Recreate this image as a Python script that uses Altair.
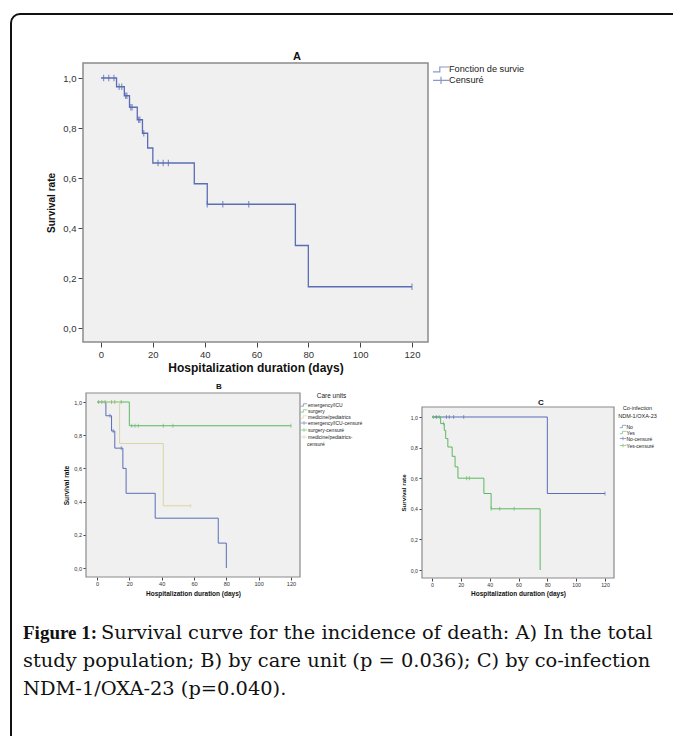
import altair as alt
import pandas as pd

# ---------------- data ----------------
x_ticks = [0, 20, 40, 60, 80, 100, 120]
y_ticks = [0.0, 0.2, 0.4, 0.6, 0.8, 1.0]

# Panel A: total study population
a_legend = ["Fonction de survie", "Censuré"]
a_days = [0, 6, 9, 11, 14, 16, 18, 20, 36, 41, 75, 80, 120]
a_surv = [1.0, 0.965, 0.929, 0.883, 0.833, 0.779, 0.72, 0.66, 0.577, 0.495, 0.33, 0.165, 0.165]
a_cens_days = [1, 3, 5, 7, 8, 9.5, 10, 11.5, 12, 14.5, 15, 16.5, 22, 24, 26, 41, 47, 57, 120]
a_cens_surv = [1.0, 1.0, 1.0, 0.965, 0.965, 0.929, 0.929, 0.883, 0.883, 0.833, 0.833, 0.779,
               0.66, 0.66, 0.66, 0.495, 0.495, 0.495, 0.165]

# Panel B: by care unit
b_groups = ["emergency/ICU", "surgery", "medicine/pediatrics"]
b_emerg_days = [0, 5.5, 9, 11, 16, 18, 36, 75, 80]
b_emerg_surv = [1.0, 0.917, 0.825, 0.722, 0.60, 0.45, 0.30, 0.15, 0.0]
b_surg_days = [0, 20, 120]
b_surg_surv = [1.0, 0.857, 0.857]
b_med_days = [0, 14, 41, 58]
b_med_surv = [1.0, 0.75, 0.375, 0.375]
b_emerg_cens_days = [8, 10, 15]
b_emerg_cens_surv = [0.917, 0.825, 0.722]
b_surg_cens_days = [1, 3, 5, 9, 11, 15, 21.5, 23.5, 25.5, 41, 47, 120]
b_surg_cens_surv = [1.0, 1.0, 1.0, 1.0, 1.0, 1.0, 0.857, 0.857, 0.857, 0.857, 0.857, 0.857]
b_med_cens_days = [58]
b_med_cens_surv = [0.375]

# Panel C: by co-infection NDM-1/OXA-23
c_groups = ["No", "Yes"]
c_no_days = [0, 80, 120]
c_no_surv = [1.0, 0.5, 0.5]
c_yes_days = [0, 6, 8.5, 9.5, 11, 14, 16, 18, 36, 41, 75]
c_yes_surv = [1.0, 0.957, 0.913, 0.859, 0.804, 0.743, 0.674, 0.60, 0.50, 0.40, 0.0]
c_no_cens_days = [3, 10, 12, 15, 22, 120]
c_no_cens_surv = [1.0, 1.0, 1.0, 1.0, 1.0, 0.5]
c_yes_cens_days = [1, 5, 8, 24, 26, 41, 47, 57]
c_yes_cens_surv = [1.0, 1.0, 0.957, 0.60, 0.60, 0.40, 0.40, 0.40]

caption_bold = "Figure 1:"
caption_lines = [
    "Survival curve for the incidence of death: A) In the total",
    "study population; B) by care unit (p = 0.036); C) by co-infection",
    "NDM-1/OXA-23 (p=0.040).",
]

# ---------------- styling ----------------
BLUE = "#5a6db5"
GREEN = "#5cb860"
TAN = "#dcd4a2"
SANS = "Liberation Sans"
SERIF = "DejaVu Serif"
W, H = 665, 728
STEP = "M-2,0.6L-0.3,0.6L-0.3,-0.6L2,-0.6"
CENS = "M-2,0L2,0M0,-0.9L0,0.9"
STEP_S = "M-1.6,0.6L-0.3,0.6L-0.3,-0.6L1.6,-0.6"
CENS_S = "M-1.6,0L1.6,0M0,-0.9L0,0.9"
TICK = "M0,-1L0,1"


def px(v):
    return v - 8


def df(days, surv, name):
    return pd.DataFrame({"day": days, "surv": surv, "series": name})


def make_panel(cfg, lines, cens, leg_domain, leg_colors, leg_shapes, leg_kw):
    fx0, fx1, fy0, fy1 = cfg["frame"]
    tx0, tx120 = cfg["xt"]
    ty1, ty0 = cfg["yt"]
    ppd = (tx120 - tx0) / 120.0
    ppu = float(ty0 - ty1)
    xdom = [(fx0 - tx0) / ppd, (fx1 - tx0) / ppd]
    ydom = [(ty0 - fy1) / ppu, (ty0 - fy0) / ppu]

    def xs():
        return alt.Scale(domain=xdom, range=[px(fx0), px(fx1)], nice=False, zero=False)

    def ys():
        return alt.Scale(domain=ydom, range=[px(fy1), px(fy0)], nice=False, zero=False)

    def sscale():
        return alt.Scale(domain=leg_domain, range=leg_colors)

    xaxis = alt.Axis(orient="bottom", offset=px(fy1) - H, values=x_ticks, format="d",
                     title="Hospitalization duration (days)", grid=False, domain=False,
                     tickSize=cfg["tick"], tickColor="#444", labelFont=SANS,
                     labelFontSize=cfg["lab"], labelColor="#333", labelPadding=cfg["lpad"],
                     titleFont=SANS, titleFontSize=cfg["xtitle"], titleFontWeight="bold",
                     titleColor="#111", titlePadding=cfg["xtpad"])
    yaxis = alt.Axis(orient="left", offset=-px(fx0), values=y_ticks,
                     labelExpr="replace(format(datum.value, '.1f'), '.', ',')",
                     title="Survival rate", grid=False, domain=False,
                     tickSize=cfg["tick"], tickColor="#444", labelFont=SANS,
                     labelFontSize=cfg["lab"], labelColor="#333", labelPadding=cfg["lpad"],
                     titleFont=SANS, titleFontSize=cfg["ytitle"], titleFontWeight="bold",
                     titleColor="#111", titlePadding=cfg["ytpad"], minExtent=0)

    frame = alt.Chart(pd.DataFrame({"x0": [xdom[0]], "x1": [xdom[1]],
                                    "y0": [ydom[0]], "y1": [ydom[1]]})).mark_rect(
        fill="#f0f0f0", stroke="#8a8a8a", strokeWidth=cfg["fw"]).encode(
        x=alt.X("x0:Q", scale=xs(), axis=xaxis), x2="x1:Q",
        y=alt.Y("y0:Q", scale=ys(), axis=yaxis), y2="y1:Q")

    line = alt.Chart(pd.concat(lines, ignore_index=True)).mark_line(
        interpolate="step-after", strokeWidth=cfg["lw"]).encode(
        x=alt.X("day:Q", scale=xs(), axis=None),
        y=alt.Y("surv:Q", scale=ys(), axis=None),
        stroke=alt.Stroke("series:N", scale=sscale(), legend=None))

    marks = alt.Chart(pd.concat(cens, ignore_index=True)).mark_point(
        shape=TICK, filled=False, strokeWidth=cfg["cw"], size=cfg["csize"]).encode(
        x=alt.X("day:Q", scale=xs(), axis=None),
        y=alt.Y("surv:Q", scale=ys(), axis=None),
        stroke=alt.Stroke("series:N", scale=sscale(), legend=None))

    def legend():
        return alt.Legend(orient="none", padding=0, symbolFillColor="transparent",
                          labelFont=SANS, labelColor="#222", titleFont=SANS,
                          titleColor="#222", titleFontWeight="normal", **leg_kw)

    # legend carrier: its own points are placed outside the canvas
    leg = alt.Chart(pd.DataFrame({"series": leg_domain})).mark_point(filled=False).encode(
        x=alt.value(-200), y=alt.value(-200),
        color=alt.Color("series:N", scale=alt.Scale(domain=leg_domain, range=leg_colors),
                        legend=legend()),
        shape=alt.Shape("series:N", scale=alt.Scale(domain=leg_domain, range=leg_shapes),
                        legend=legend()))
    return [frame, line, marks, leg]


# ---------------- panel A ----------------
cfgA = dict(frame=(83, 428, 63, 342), xt=(101, 412), yt=(78, 328), tick=5, lab=9.5,
            lpad=2, xtitle=12, ytitle=10, xtpad=4, ytpad=6, fw=1.5, lw=1.3, cw=1.2, csize=42)
panelA = make_panel(
    cfgA,
    [df(a_days, a_surv, a_legend[0])],
    [df(a_cens_days, a_cens_surv, a_legend[1])],
    a_legend, [BLUE, BLUE], [STEP, CENS],
    dict(legendX=px(436), legendY=px(64.4), title=None, labelFontSize=9.2, symbolSize=64,
         symbolStrokeWidth=1.2, labelOffset=3, rowPadding=-4))

# ---------------- panel B ----------------
b_cens_names = [g + "-censuré" for g in b_groups]
b_domain = b_groups + b_cens_names
cfgB = dict(frame=(86, 300, 393, 577), xt=(97, 291), yt=(402, 568), tick=3, lab=5.6,
            lpad=1.5, xtitle=6.5, ytitle=6.6, xtpad=3, ytpad=4, fw=1.2, lw=1.0, cw=0.9, csize=16)
panelB = make_panel(
    cfgB,
    [df(b_emerg_days, b_emerg_surv, b_groups[0]), df(b_surg_days, b_surg_surv, b_groups[1]),
     df(b_med_days, b_med_surv, b_groups[2])],
    [df(b_emerg_cens_days, b_emerg_cens_surv, b_cens_names[0]),
     df(b_surg_cens_days, b_surg_cens_surv, b_cens_names[1]),
     df(b_med_cens_days, b_med_cens_surv, b_cens_names[2])],
    b_domain, [BLUE, GREEN, TAN, BLUE, GREEN, TAN], [STEP_S] * 3 + [CENS_S] * 3,
    dict(legendX=px(301.5), legendY=px(393), title="Care units", titleFontSize=6.5,
         titleAnchor="middle", titlePadding=3, labelFontSize=5.0, symbolSize=16,
         symbolStrokeWidth=0.9, labelOffset=1.5, rowPadding=-2.3,
         labelExpr="datum.label == 'medicine/pediatrics-censuré' ? 'medicine/pediatrics-' : datum.label"))

# ---------------- panel C ----------------
c_cens_names = [g + "-censuré" for g in c_groups]
c_domain = c_groups + c_cens_names
cfgC = dict(frame=(422, 614, 407, 578), xt=(432, 605), yt=(417, 570), tick=3, lab=5.2,
            lpad=1.5, xtitle=6.5, ytitle=6.2, xtpad=3, ytpad=4, fw=1.2, lw=1.0, cw=0.9, csize=16)
panelC = make_panel(
    cfgC,
    [df(c_no_days, c_no_surv, c_groups[0]), df(c_yes_days, c_yes_surv, c_groups[1])],
    [df(c_no_cens_days, c_no_cens_surv, c_cens_names[0]),
     df(c_yes_cens_days, c_yes_cens_surv, c_cens_names[1])],
    c_domain, [BLUE, GREEN, BLUE, GREEN], [STEP_S, STEP_S, CENS_S, CENS_S],
    dict(legendX=px(618.5), legendY=px(406), title=["Co-infection", "NDM-1/OXA-23"],
         titleFontSize=5.5, titleAnchor="middle", titleAlign="center", titlePadding=5,
         labelFontSize=5, symbolSize=16, symbolStrokeWidth=0.9, labelOffset=1,
         rowPadding=-2.3))


# ---------------- texts ----------------
def text(t, x, y, size, weight="normal", font=SANS, align="center", baseline="middle",
         color="#111"):
    return alt.Chart(pd.DataFrame({"t": [t]})).mark_text(
        font=font, fontSize=size, fontWeight=weight, align=align, baseline=baseline,
        color=color).encode(text="t:N", x=alt.value(px(x)), y=alt.value(px(y)))


titles = [text("A", 297, 57, 11, "bold"), text("B", 219, 387, 8, "bold"),
          text("C", 541, 403, 8, "bold"),
          # second line of the wrapped legend label "medicine/pediatrics-censuré"
          text("censuré", 307, 443.5, 5.0, "normal", SANS, "left", "middle", "#222")]

cap_size = 19.4
caption = [
    text(caption_bold, 23, 639, 19, "bold", "Liberation Serif", "left", "alphabetic"),
    text(caption_lines[0], 101, 639, cap_size, "normal", SERIF, "left", "alphabetic"),
    text(caption_lines[1], 23, 667, cap_size, "normal", SERIF, "left", "alphabetic"),
    text(caption_lines[2], 23, 695, cap_size, "normal", SERIF, "left", "alphabetic"),
]

border = alt.Chart(pd.DataFrame({"a": [0]})).mark_rect(
    fill="transparent", stroke="#111", strokeWidth=2, cornerRadiusTopLeft=9).encode(
    x=alt.value(px(11)), y=alt.value(px(14)), x2=alt.value(W + 40), y2=alt.value(H + 40))

chart = alt.layer(border, *panelA, *panelB, *panelC, *titles, *caption).resolve_scale(
    x="independent", y="independent", color="independent", shape="independent",
    stroke="independent").resolve_axis(x="independent", y="independent").resolve_legend(
    color="independent", shape="independent", stroke="independent").properties(
    width=W, height=H, padding=0, autosize=alt.AutoSizeParams(type="none"),
    background="white").configure_view(stroke=None)

chart.save("out.html", embed_options={"renderer": "svg", "actions": False})
